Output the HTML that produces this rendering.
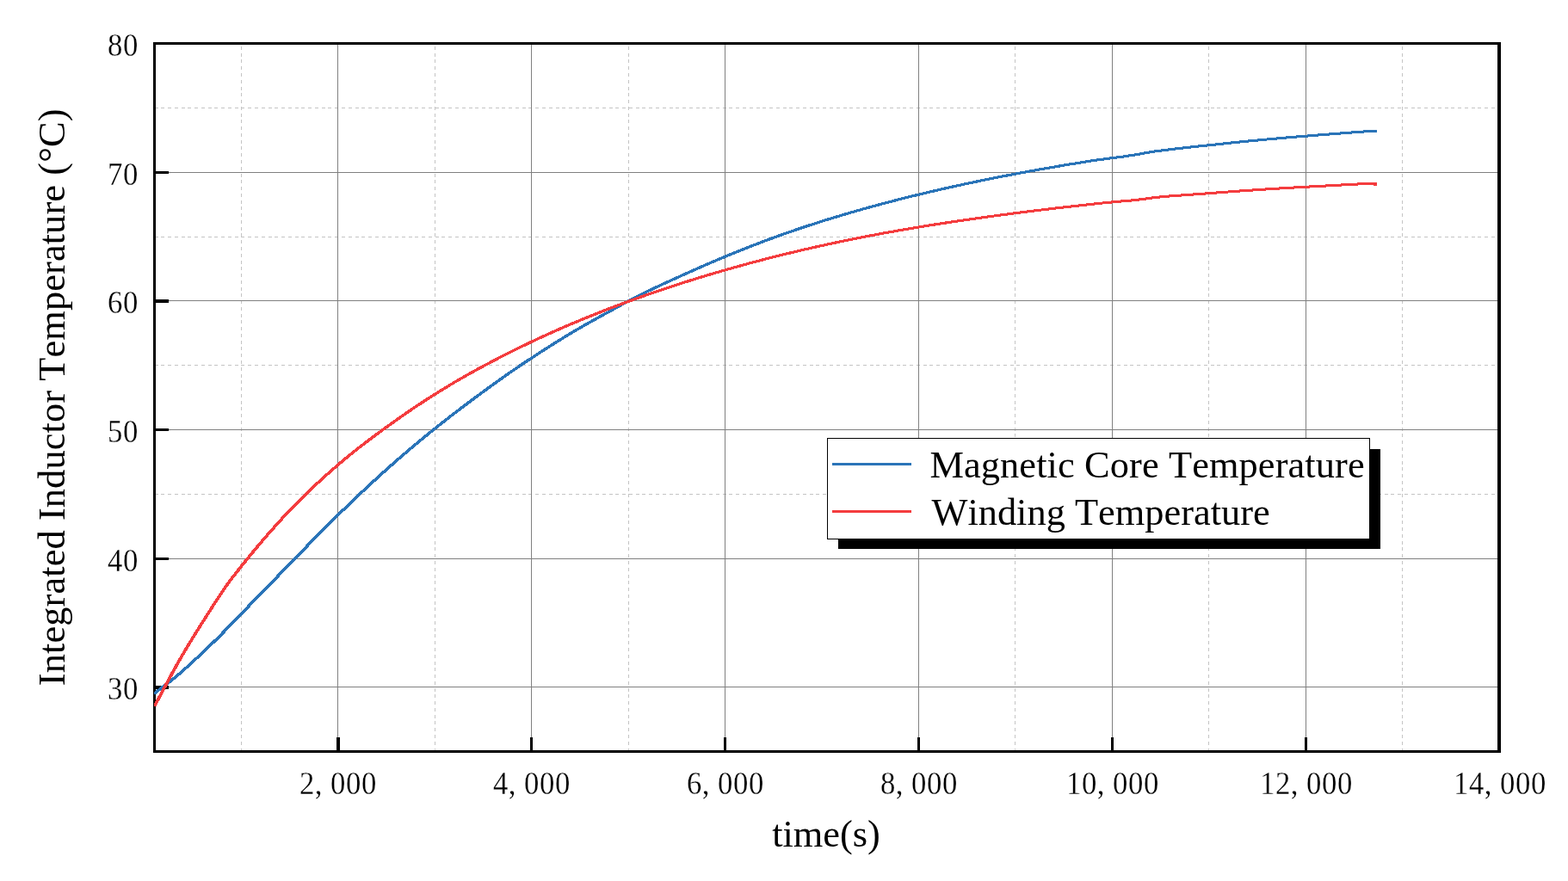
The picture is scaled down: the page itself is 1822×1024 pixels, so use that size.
<!DOCTYPE html>
<html lang="en"><head><meta charset="utf-8"><title>Integrated Inductor Temperature</title>
<style>html,body{margin:0;padding:0;background:#fff;}body{width:1822px;height:1024px;overflow:hidden;}svg{display:block;}text{font-family:"Liberation Serif","DejaVu Serif",serif;fill:#000;font-kerning:none;}.tk{font-size:36px;stroke:#fff;stroke-width:0.25px;}.ti{font-size:44.4px;}.lg{font-size:44.4px;}</style></head><body>
<svg width="1822" height="1024" viewBox="0 0 1822 1024">
<rect x="0" y="0" width="1822" height="1024" fill="#fff"/>
<g stroke="#c4c4c4" stroke-width="1" stroke-dasharray="4 3.767" shape-rendering="crispEdges" fill="none">
<line x1="280.5" y1="873.5" x2="280.5" y2="52"/>
<line x1="505.5" y1="873.5" x2="505.5" y2="52"/>
<line x1="730.5" y1="873.5" x2="730.5" y2="52"/>
<line x1="1179.5" y1="873.5" x2="1179.5" y2="52"/>
<line x1="1404.5" y1="873.5" x2="1404.5" y2="52"/>
<line x1="1629.5" y1="873.5" x2="1629.5" y2="52"/>
<line x1="179.5" y1="125.5" x2="1740" y2="125.5"/>
<line x1="179.5" y1="275.5" x2="1740" y2="275.5"/>
<line x1="179.5" y1="424.5" x2="1740" y2="424.5"/>
<line x1="179.5" y1="574.5" x2="1740" y2="574.5"/>
</g>
<g stroke="#808080" stroke-width="1" shape-rendering="crispEdges" fill="none">
<line x1="392.5" y1="52" x2="392.5" y2="872"/>
<line x1="617.5" y1="52" x2="617.5" y2="872"/>
<line x1="842.5" y1="52" x2="842.5" y2="872"/>
<line x1="1067.5" y1="52" x2="1067.5" y2="872"/>
<line x1="1292.5" y1="52" x2="1292.5" y2="872"/>
<line x1="1517.5" y1="52" x2="1517.5" y2="872"/>
<line x1="181" y1="200.5" x2="1740" y2="200.5"/>
<line x1="181" y1="349.5" x2="1740" y2="349.5"/>
<line x1="181" y1="499.5" x2="1740" y2="499.5"/>
<line x1="181" y1="649.5" x2="1740" y2="649.5"/>
<line x1="181" y1="798.5" x2="1740" y2="798.5"/>
</g>
<g fill="#000" shape-rendering="crispEdges">
<rect x="178" y="49" width="3" height="826"/>
<rect x="178" y="49" width="1566" height="3"/>
<rect x="1740" y="49" width="4" height="826"/>
<rect x="178" y="872" width="1566" height="3"/>
<rect x="391" y="857" width="4" height="15"/>
<rect x="616" y="857" width="3" height="15"/>
<rect x="841" y="857" width="3" height="15"/>
<rect x="1066" y="857" width="3" height="15"/>
<rect x="1291" y="857" width="3" height="15"/>
<rect x="1516" y="857" width="3" height="15"/>
<rect x="181" y="199" width="15" height="3"/>
<rect x="181" y="348" width="15" height="4"/>
<rect x="181" y="498" width="15" height="3"/>
<rect x="181" y="648" width="15" height="3"/>
<rect x="181" y="797" width="15" height="4"/>
</g>
<svg x="179" y="52" width="1421" height="821" viewBox="179 52 1421 821" overflow="hidden">
<g fill="none" stroke-width="3" stroke-linejoin="round" stroke-linecap="butt" shape-rendering="crispEdges">
<path stroke="#2a74b8" d="M179.00,806.17 L179.10,806.09 L180.10,805.25 L181.10,804.43 L182.10,803.62 L183.10,802.81 L184.10,802.02 L185.10,801.24 L186.10,800.46 L187.10,799.69 L188.10,798.92 L189.10,798.16 L190.10,797.40 L191.10,796.64 L192.10,795.88 L193.10,795.13 L194.10,794.37 L195.10,793.61 L196.10,792.85 L197.10,792.08 L198.10,791.31 L199.10,790.53 L200.10,789.74 L201.10,788.93 L202.10,788.13 L203.10,787.31 L204.10,786.48 L205.10,785.64 L206.10,784.80 L207.10,783.95 L208.10,783.09 L209.10,782.23 L210.10,781.36 L211.10,780.48 L212.10,779.60 L213.10,778.72 L214.10,777.82 L215.10,776.93 L216.10,776.03 L217.10,775.13 L218.10,774.22 L219.10,773.31 L220.10,772.40 L221.10,771.48 L222.10,770.57 L223.10,769.65 L224.10,768.73 L225.10,767.80 L226.10,766.88 L227.10,765.95 L228.10,765.02 L229.10,764.09 L230.10,763.15 L231.10,762.22 L232.10,761.28 L233.10,760.34 L234.10,759.40 L235.10,758.45 L236.10,757.51 L237.10,756.56 L238.10,755.61 L239.10,754.66 L240.10,753.70 L241.10,752.75 L242.10,751.79 L243.10,750.83 L244.10,749.87 L245.10,748.91 L246.10,747.94 L247.10,746.98 L248.09,746.01 L249.09,745.04 L250.08,744.07 L251.06,743.09 L252.05,742.12 L253.03,741.14 L254.01,740.16 L254.99,739.19 L255.96,738.20 L256.93,737.22 L257.91,736.24 L258.88,735.25 L259.85,734.27 L260.81,733.28 L261.78,732.29 L262.75,731.30 L263.71,730.31 L264.68,729.31 L265.64,728.32 L266.60,727.32 L267.57,726.32 L268.53,725.32 L269.50,724.32 L270.46,723.32 L271.42,722.32 L272.39,721.32 L273.35,720.31 L274.32,719.31 L275.29,718.30 L276.25,717.29 L277.22,716.28 L278.19,715.27 L279.17,714.26 L280.14,713.25 L281.11,712.24 L282.09,711.22 L283.07,710.21 L284.05,709.19 L285.04,708.18 L286.02,707.16 L287.01,706.14 L288.01,705.12 L289.00,704.10 L290.00,703.08 L291.00,702.06 L292.00,701.04 L293.00,700.01 L294.00,698.99 L295.00,697.97 L296.00,696.94 L297.00,695.92 L298.00,694.89 L299.00,693.86 L300.00,692.84 L301.00,691.81 L302.00,690.78 L303.00,689.75 L304.00,688.72 L305.00,687.69 L306.00,686.66 L307.00,685.63 L308.00,684.60 L309.00,683.57 L310.00,682.54 L311.00,681.51 L312.00,680.48 L313.00,679.45 L314.00,678.41 L315.00,677.38 L316.00,676.35 L317.00,675.31 L318.00,674.28 L319.00,673.25 L320.00,672.22 L321.00,671.18 L322.00,670.15 L323.00,669.11 L324.00,668.08 L325.00,667.05 L326.00,666.01 L327.00,664.98 L328.00,663.95 L329.00,662.91 L330.00,661.88 L331.00,660.85 L332.00,659.82 L333.00,658.78 L334.00,657.75 L335.00,656.72 L336.00,655.69 L337.00,654.65 L338.00,653.62 L339.00,652.59 L340.00,651.56 L341.00,650.53 L342.00,649.50 L343.00,648.47 L344.00,647.44 L345.00,646.41 L346.00,645.38 L347.00,644.36 L348.00,643.33 L349.00,642.30 L350.00,641.28 L351.00,640.25 L352.00,639.22 L353.00,638.20 L354.00,637.18 L355.00,636.15 L356.00,635.13 L357.00,634.11 L358.00,633.09 L359.00,632.07 L360.00,631.05 L361.00,630.03 L362.00,629.01 L363.00,627.99 L364.00,626.98 L365.00,625.96 L366.00,624.95 L367.00,623.93 L368.00,622.92 L369.00,621.91 L370.00,620.90 L371.00,619.89 L372.00,618.88 L373.00,617.87 L374.00,616.87 L375.00,615.86 L376.00,614.86 L377.00,613.85 L378.00,612.85 L379.00,611.85 L380.00,610.85 L381.00,609.85 L382.00,608.86 L383.00,607.86 L384.00,606.87 L385.00,605.87 L386.00,604.88 L387.00,603.89 L388.00,602.90 L389.00,601.91 L390.00,600.93 L391.00,599.94 L392.00,598.96 L393.00,597.98 L394.00,597.00 L395.00,596.02 L396.00,595.04 L397.00,594.06 L398.00,593.09 L399.00,592.12 L400.00,591.15 L401.00,590.18 L402.00,589.21 L403.00,588.24 L404.00,587.28 L405.00,586.31 L406.00,585.35 L407.00,584.39 L408.00,583.43 L409.00,582.47 L410.00,581.52 L411.00,580.56 L412.00,579.61 L413.00,578.66 L414.00,577.71 L415.00,576.76 L416.00,575.81 L417.00,574.87 L418.00,573.93 L419.00,572.98 L420.00,572.04 L421.00,571.10 L422.00,570.17 L423.00,569.23 L424.00,568.30 L425.00,567.36 L426.00,566.43 L427.00,565.50 L428.00,564.58 L429.00,563.65 L430.00,562.73 L431.00,561.80 L432.00,560.88 L433.00,559.96 L434.00,559.04 L435.00,558.13 L436.00,557.21 L437.00,556.30 L438.00,555.39 L439.00,554.48 L440.00,553.57 L441.00,552.66 L442.00,551.76 L443.00,550.85 L444.00,549.95 L445.00,549.05 L446.00,548.15 L447.00,547.25 L448.00,546.36 L449.00,545.46 L450.00,544.57 L451.00,543.68 L452.00,542.79 L453.00,541.90 L454.00,541.02 L455.00,540.14 L456.00,539.25 L457.00,538.37 L458.00,537.49 L459.00,536.62 L460.00,535.74 L461.00,534.87 L462.00,533.99 L463.00,533.12 L464.00,532.25 L465.00,531.39 L466.00,530.52 L467.00,529.66 L468.00,528.80 L469.00,527.93 L470.00,527.08 L471.00,526.22 L472.00,525.36 L473.00,524.51 L474.00,523.66 L475.00,522.81 L476.00,521.96 L477.00,521.11 L478.00,520.27 L479.00,519.42 L480.00,518.58 L481.00,517.74 L482.00,516.90 L483.00,516.07 L484.00,515.23 L485.00,514.40 L486.00,513.57 L487.00,512.74 L488.00,511.91 L489.00,511.08 L490.00,510.26 L491.00,509.43 L492.00,508.61 L493.00,507.79 L494.00,506.98 L495.00,506.16 L496.00,505.35 L497.00,504.53 L498.00,503.72 L499.00,502.91 L500.00,502.10 L501.00,501.30 L502.00,500.49 L503.00,499.69 L504.00,498.89 L505.00,498.09 L506.00,497.29 L507.00,496.49 L508.00,495.70 L509.00,494.90 L510.00,494.11 L511.00,493.32 L512.00,492.53 L513.00,491.74 L514.00,490.95 L515.00,490.17 L516.00,489.38 L517.00,488.60 L518.00,487.82 L519.00,487.04 L520.00,486.26 L521.00,485.49 L522.00,484.71 L523.00,483.94 L524.00,483.16 L525.00,482.39 L526.00,481.62 L527.00,480.85 L528.00,480.08 L529.00,479.32 L530.00,478.55 L531.00,477.79 L532.00,477.02 L533.00,476.26 L534.00,475.50 L535.00,474.74 L536.00,473.98 L537.00,473.23 L538.00,472.47 L539.00,471.72 L540.00,470.96 L541.00,470.21 L542.00,469.46 L543.00,468.71 L544.00,467.96 L545.00,467.21 L546.00,466.46 L547.00,465.72 L548.00,464.97 L549.00,464.23 L550.00,463.48 L551.00,462.74 L552.00,462.00 L553.00,461.26 L554.00,460.52 L555.00,459.78 L556.00,459.05 L557.00,458.31 L558.00,457.58 L559.00,456.84 L560.00,456.11 L561.00,455.37 L562.00,454.64 L563.00,453.91 L564.00,453.18 L565.00,452.45 L566.00,451.72 L567.00,451.00 L568.00,450.27 L569.00,449.54 L570.00,448.82 L571.00,448.09 L572.00,447.37 L573.00,446.65 L574.00,445.93 L575.00,445.21 L576.00,444.49 L577.00,443.77 L578.00,443.05 L579.00,442.33 L580.00,441.62 L581.00,440.90 L582.00,440.19 L583.00,439.47 L584.00,438.76 L585.00,438.05 L586.00,437.34 L587.00,436.63 L588.00,435.92 L589.00,435.22 L590.00,434.51 L591.00,433.82 L592.00,433.14 L593.00,432.45 L594.00,431.76 L595.00,431.08 L596.00,430.40 L597.00,429.72 L598.00,429.04 L599.00,428.36 L600.00,427.68 L601.00,427.00 L602.00,426.33 L603.00,425.65 L604.00,424.98 L605.00,424.30 L606.00,423.63 L607.00,422.96 L608.00,422.29 L609.00,421.63 L610.00,420.96 L611.00,420.30 L612.00,419.63 L613.00,418.97 L614.00,418.31 L615.00,417.65 L616.00,416.99 L617.00,416.33 L618.00,415.68 L619.00,415.02 L620.00,414.37 L621.00,413.71 L622.00,413.05 L623.00,412.40 L624.00,411.74 L625.00,411.09 L626.00,410.44 L627.00,409.79 L628.00,409.14 L629.00,408.49 L630.00,407.84 L631.00,407.20 L632.00,406.55 L633.00,405.91 L634.00,405.27 L635.00,404.63 L636.00,403.99 L637.00,403.35 L638.00,402.72 L639.00,402.08 L640.00,401.45 L641.00,400.82 L642.00,400.19 L643.00,399.56 L644.00,398.93 L645.00,398.31 L646.00,397.68 L647.00,397.06 L648.00,396.44 L649.00,395.82 L650.00,395.20 L651.00,394.58 L652.00,393.97 L653.00,393.35 L654.00,392.74 L655.00,392.13 L656.00,391.52 L657.00,390.91 L658.00,390.30 L659.00,389.69 L660.00,389.09 L661.00,388.49 L662.00,387.89 L663.00,387.29 L664.00,386.70 L665.00,386.10 L666.00,385.51 L667.00,384.92 L668.00,384.33 L669.00,383.74 L670.00,383.16 L671.00,382.57 L672.00,381.99 L673.00,381.41 L674.00,380.83 L675.00,380.25 L676.00,379.67 L677.00,379.09 L678.00,378.52 L679.00,377.94 L680.00,377.37 L681.00,376.80 L682.00,376.23 L683.00,375.67 L684.00,375.10 L685.00,374.54 L686.00,373.97 L687.00,373.41 L688.00,372.85 L689.00,372.29 L690.00,371.74 L691.00,371.18 L692.00,370.63 L693.00,370.08 L694.00,369.53 L695.00,368.98 L696.00,368.43 L697.00,367.89 L698.00,367.34 L699.00,366.80 L700.00,366.26 L702.00,365.18 L704.00,364.11 L706.00,363.01 L708.00,361.88 L710.00,360.77 L712.00,359.65 L714.00,358.55 L716.00,357.45 L718.00,356.35 L720.00,355.27 L722.00,354.19 L724.00,353.11 L726.00,352.05 L728.00,350.98 L730.00,349.93 L732.00,348.87 L734.00,347.82 L736.00,346.78 L738.00,345.74 L740.00,344.71 L742.00,343.68 L744.00,342.66 L746.00,341.64 L748.00,340.63 L750.00,339.62 L752.00,338.66 L754.00,337.70 L756.00,336.75 L758.00,335.80 L760.00,334.85 L762.00,333.91 L764.00,332.97 L766.00,332.04 L768.00,331.10 L770.00,330.18 L772.00,329.25 L774.00,328.33 L776.00,327.41 L778.00,326.49 L780.00,325.57 L782.00,324.66 L784.00,323.75 L786.00,322.84 L788.00,321.93 L790.00,321.03 L792.00,320.12 L794.00,319.22 L796.00,318.32 L798.00,317.42 L800.00,316.53 L802.00,315.64 L804.00,314.75 L806.00,313.86 L808.00,312.98 L810.00,312.10 L812.00,311.22 L814.00,310.34 L816.00,309.47 L818.00,308.60 L820.00,307.73 L822.00,306.86 L824.00,305.99 L826.00,305.13 L828.00,304.27 L830.00,303.42 L832.00,302.56 L834.00,301.71 L836.00,300.87 L838.00,300.02 L840.00,299.18 L842.00,298.34 L844.00,297.51 L846.00,296.69 L848.00,295.87 L850.00,295.05 L852.00,294.24 L854.00,293.42 L856.00,292.62 L858.00,291.81 L860.00,291.01 L862.00,290.21 L864.00,289.42 L866.00,288.62 L868.00,287.84 L870.00,287.05 L872.00,286.27 L874.00,285.49 L876.00,284.72 L878.00,283.95 L880.00,283.18 L882.00,282.42 L884.00,281.66 L886.00,280.90 L888.00,280.15 L890.00,279.40 L892.00,278.65 L894.00,277.91 L896.00,277.18 L898.00,276.44 L900.00,275.71 L902.00,274.99 L904.00,274.27 L906.00,273.55 L908.00,272.84 L910.00,272.13 L912.00,271.42 L914.00,270.72 L916.00,270.02 L918.00,269.32 L920.00,268.63 L922.00,267.95 L924.00,267.26 L926.00,266.58 L928.00,265.90 L930.00,265.23 L932.00,264.56 L934.00,263.89 L936.00,263.23 L938.00,262.57 L940.00,261.92 L942.00,261.26 L944.00,260.61 L946.00,259.97 L948.00,259.32 L950.00,258.68 L952.00,258.05 L954.00,257.41 L956.00,256.78 L958.00,256.16 L960.00,255.53 L962.00,254.91 L964.00,254.30 L966.00,253.68 L968.00,253.07 L970.00,252.46 L972.00,251.86 L974.00,251.26 L976.00,250.66 L978.00,250.06 L980.00,249.47 L982.00,248.88 L984.00,248.29 L986.00,247.70 L988.00,247.12 L990.00,246.54 L992.00,245.97 L994.00,245.39 L996.00,244.82 L998.00,244.25 L1000.00,243.69 L1002.00,243.13 L1004.00,242.57 L1006.00,242.01 L1008.00,241.45 L1010.00,240.90 L1012.00,240.35 L1014.00,239.80 L1016.00,239.26 L1018.00,238.71 L1020.00,238.17 L1022.00,237.64 L1024.00,237.10 L1026.00,236.57 L1028.00,236.04 L1030.00,235.51 L1032.00,234.99 L1034.00,234.46 L1036.00,233.94 L1038.00,233.42 L1040.00,232.91 L1042.00,232.39 L1044.00,231.88 L1046.00,231.37 L1048.00,230.87 L1050.00,230.36 L1052.00,229.86 L1054.00,229.36 L1056.00,228.87 L1058.00,228.37 L1060.00,227.88 L1062.00,227.39 L1064.00,226.90 L1066.00,226.41 L1068.00,225.93 L1070.00,225.45 L1072.00,224.97 L1074.00,224.49 L1076.00,224.02 L1078.00,223.54 L1080.00,223.07 L1082.00,222.60 L1084.00,222.14 L1086.00,221.67 L1088.00,221.21 L1090.00,220.75 L1092.00,220.29 L1094.00,219.84 L1096.00,219.38 L1098.00,218.93 L1100.00,218.48 L1102.00,218.03 L1104.00,217.59 L1106.00,217.14 L1108.00,216.70 L1110.00,216.26 L1112.00,215.83 L1114.00,215.39 L1116.00,214.96 L1118.00,214.52 L1120.00,214.09 L1122.00,213.67 L1124.00,213.24 L1126.00,212.82 L1128.00,212.39 L1130.00,211.97 L1132.00,211.55 L1134.00,211.14 L1136.00,210.72 L1138.00,210.31 L1140.00,209.90 L1142.00,209.49 L1144.00,209.08 L1146.00,208.68 L1148.00,208.27 L1150.00,207.87 L1152.00,207.47 L1154.00,207.07 L1156.00,206.67 L1158.00,206.28 L1160.00,205.88 L1162.00,205.49 L1164.00,205.10 L1166.00,204.71 L1168.00,204.32 L1170.00,203.94 L1172.00,203.56 L1174.00,203.17 L1176.00,202.79 L1178.00,202.41 L1180.00,202.04 L1182.00,201.66 L1184.00,201.29 L1186.00,200.91 L1188.00,200.54 L1190.00,200.17 L1192.00,199.81 L1194.00,199.44 L1196.00,199.07 L1198.00,198.71 L1200.00,198.35 L1202.00,197.99 L1204.00,197.63 L1206.00,197.27 L1208.00,196.92 L1210.00,196.56 L1212.00,196.21 L1214.00,195.86 L1216.00,195.51 L1218.00,195.16 L1220.00,194.81 L1222.00,194.47 L1224.00,194.12 L1226.00,193.78 L1228.00,193.44 L1230.00,193.10 L1232.00,192.76 L1234.00,192.43 L1236.00,192.09 L1238.00,191.76 L1240.00,191.42 L1242.00,191.09 L1244.00,190.76 L1246.00,190.44 L1248.00,190.11 L1250.00,189.78 L1252.00,189.46 L1254.00,189.14 L1256.00,188.82 L1258.00,188.50 L1260.00,188.18 L1262.00,187.86 L1264.00,187.55 L1266.00,187.24 L1268.00,186.92 L1270.00,186.61 L1272.00,186.34 L1274.00,186.06 L1276.00,185.79 L1278.00,185.52 L1280.00,185.25 L1282.00,184.98 L1284.00,184.72 L1286.00,184.45 L1288.00,184.19 L1290.00,183.93 L1292.00,183.66 L1294.00,183.40 L1296.00,183.15 L1298.00,182.89 L1300.00,182.63 L1302.00,182.38 L1304.00,182.13 L1306.00,181.85 L1308.00,181.54 L1310.00,181.24 L1312.00,180.94 L1314.00,180.64 L1316.00,180.34 L1318.00,180.04 L1320.00,179.74 L1322.00,179.37 L1324.00,179.00 L1326.00,178.62 L1328.00,178.25 L1330.00,177.89 L1332.00,177.55 L1334.00,177.21 L1336.00,176.87 L1338.00,176.53 L1340.00,176.19 L1342.00,175.89 L1344.00,175.64 L1346.00,175.39 L1348.00,175.13 L1350.00,174.88 L1352.00,174.64 L1354.00,174.39 L1356.00,174.14 L1358.00,173.90 L1360.00,173.66 L1362.00,173.42 L1364.00,173.19 L1366.00,172.95 L1368.00,172.72 L1370.00,172.49 L1372.00,172.26 L1374.00,172.03 L1376.00,171.80 L1378.00,171.58 L1380.00,171.36 L1382.00,171.14 L1384.00,170.92 L1386.00,170.70 L1388.00,170.49 L1390.00,170.27 L1392.00,170.06 L1394.00,169.85 L1396.00,169.64 L1398.00,169.43 L1400.00,169.22 L1402.00,169.01 L1404.00,168.80 L1406.00,168.60 L1408.00,168.39 L1410.00,168.19 L1412.00,167.97 L1414.00,167.76 L1416.00,167.54 L1418.00,167.33 L1420.00,167.11 L1422.00,166.90 L1424.00,166.69 L1426.00,166.48 L1428.00,166.27 L1430.00,166.06 L1432.00,165.86 L1434.00,165.65 L1436.00,165.45 L1438.00,165.25 L1440.00,165.04 L1442.00,164.84 L1444.00,164.64 L1446.00,164.45 L1448.00,164.25 L1450.00,164.05 L1452.00,163.86 L1454.00,163.67 L1456.00,163.47 L1458.00,163.28 L1460.00,163.09 L1462.00,162.90 L1464.00,162.71 L1466.00,162.53 L1468.00,162.34 L1470.00,162.16 L1472.00,161.97 L1474.00,161.79 L1476.00,161.61 L1478.00,161.43 L1480.00,161.25 L1482.00,161.07 L1484.00,160.90 L1486.00,160.72 L1488.00,160.55 L1490.00,160.37 L1492.00,160.20 L1494.00,160.03 L1496.00,159.86 L1498.00,159.69 L1500.00,159.52 L1502.00,159.35 L1504.00,159.19 L1506.00,159.02 L1508.00,158.86 L1510.00,158.70 L1512.00,158.54 L1514.00,158.37 L1516.00,158.21 L1518.00,158.06 L1520.00,157.90 L1522.00,157.74 L1524.00,157.59 L1526.00,157.43 L1528.00,157.28 L1530.00,157.13 L1532.00,156.97 L1534.00,156.82 L1536.00,156.68 L1538.00,156.53 L1540.00,156.38 L1542.00,156.22 L1544.00,156.05 L1546.00,155.89 L1548.00,155.73 L1550.00,155.57 L1552.00,155.42 L1554.00,155.26 L1556.00,155.10 L1558.00,154.95 L1560.00,154.79 L1562.00,154.64 L1564.00,154.49 L1566.00,154.34 L1568.00,154.19 L1570.00,154.04 L1572.00,153.89 L1574.00,153.74 L1576.00,153.60 L1578.00,153.45 L1580.00,153.31 L1582.00,153.16 L1584.00,153.04 L1586.00,152.91 L1588.00,152.79 L1590.00,152.67 L1592.00,152.54 L1594.00,152.42 L1596.00,152.30 L1598.00,152.18 L1600.00,152.07"/>
<path stroke="#2a74b8" transform="translate(0.8,0)" d="M179.00,806.17 L179.10,806.09 L180.10,805.25 L181.10,804.43 L182.10,803.62 L183.10,802.81 L184.10,802.02 L185.10,801.24 L186.10,800.46 L187.10,799.69 L188.10,798.92 L189.10,798.16 L190.10,797.40 L191.10,796.64 L192.10,795.88 L193.10,795.13 L194.10,794.37 L195.10,793.61 L196.10,792.85 L197.10,792.08 L198.10,791.31 L199.10,790.53 L200.10,789.74 L201.10,788.93 L202.10,788.13 L203.10,787.31 L204.10,786.48 L205.10,785.64 L206.10,784.80 L207.10,783.95 L208.10,783.09 L209.10,782.23 L210.10,781.36 L211.10,780.48 L212.10,779.60 L213.10,778.72 L214.10,777.82 L215.10,776.93 L216.10,776.03 L217.10,775.13 L218.10,774.22 L219.10,773.31 L220.10,772.40 L221.10,771.48 L222.10,770.57 L223.10,769.65 L224.10,768.73 L225.10,767.80 L226.10,766.88 L227.10,765.95 L228.10,765.02 L229.10,764.09 L230.10,763.15 L231.10,762.22 L232.10,761.28 L233.10,760.34 L234.10,759.40 L235.10,758.45 L236.10,757.51 L237.10,756.56 L238.10,755.61 L239.10,754.66 L240.10,753.70 L241.10,752.75 L242.10,751.79 L243.10,750.83 L244.10,749.87 L245.10,748.91 L246.10,747.94 L247.10,746.98 L248.09,746.01 L249.09,745.04 L250.08,744.07 L251.06,743.09 L252.05,742.12 L253.03,741.14 L254.01,740.16 L254.99,739.19 L255.96,738.20 L256.93,737.22 L257.91,736.24 L258.88,735.25 L259.85,734.27 L260.81,733.28 L261.78,732.29 L262.75,731.30 L263.71,730.31 L264.68,729.31 L265.64,728.32 L266.60,727.32 L267.57,726.32 L268.53,725.32 L269.50,724.32 L270.46,723.32 L271.42,722.32 L272.39,721.32 L273.35,720.31 L274.32,719.31 L275.29,718.30 L276.25,717.29 L277.22,716.28 L278.19,715.27 L279.17,714.26 L280.14,713.25 L281.11,712.24 L282.09,711.22 L283.07,710.21 L284.05,709.19 L285.04,708.18 L286.02,707.16 L287.01,706.14 L288.01,705.12 L289.00,704.10 L290.00,703.08 L291.00,702.06 L292.00,701.04 L293.00,700.01 L294.00,698.99 L295.00,697.97 L296.00,696.94 L297.00,695.92 L298.00,694.89 L299.00,693.86 L300.00,692.84 L301.00,691.81 L302.00,690.78 L303.00,689.75 L304.00,688.72 L305.00,687.69 L306.00,686.66 L307.00,685.63 L308.00,684.60 L309.00,683.57 L310.00,682.54 L311.00,681.51 L312.00,680.48 L313.00,679.45 L314.00,678.41 L315.00,677.38 L316.00,676.35 L317.00,675.31 L318.00,674.28 L319.00,673.25 L320.00,672.22 L321.00,671.18 L322.00,670.15 L323.00,669.11 L324.00,668.08 L325.00,667.05 L326.00,666.01 L327.00,664.98 L328.00,663.95 L329.00,662.91 L330.00,661.88 L331.00,660.85 L332.00,659.82 L333.00,658.78 L334.00,657.75 L335.00,656.72 L336.00,655.69 L337.00,654.65 L338.00,653.62 L339.00,652.59 L340.00,651.56 L341.00,650.53 L342.00,649.50 L343.00,648.47 L344.00,647.44 L345.00,646.41 L346.00,645.38 L347.00,644.36 L348.00,643.33 L349.00,642.30 L350.00,641.28 L351.00,640.25 L352.00,639.22 L353.00,638.20 L354.00,637.18 L355.00,636.15 L356.00,635.13 L357.00,634.11 L358.00,633.09 L359.00,632.07 L360.00,631.05 L361.00,630.03 L362.00,629.01 L363.00,627.99 L364.00,626.98 L365.00,625.96 L366.00,624.95 L367.00,623.93 L368.00,622.92 L369.00,621.91 L370.00,620.90 L371.00,619.89 L372.00,618.88 L373.00,617.87 L374.00,616.87 L375.00,615.86 L376.00,614.86 L377.00,613.85 L378.00,612.85 L379.00,611.85 L380.00,610.85 L381.00,609.85 L382.00,608.86 L383.00,607.86 L384.00,606.87 L385.00,605.87 L386.00,604.88 L387.00,603.89 L388.00,602.90 L389.00,601.91 L390.00,600.93 L391.00,599.94 L392.00,598.96 L393.00,597.98 L394.00,597.00 L395.00,596.02 L396.00,595.04 L397.00,594.06 L398.00,593.09 L399.00,592.12 L400.00,591.15 L401.00,590.18 L402.00,589.21 L403.00,588.24 L404.00,587.28 L405.00,586.31 L406.00,585.35 L407.00,584.39 L408.00,583.43 L409.00,582.47 L410.00,581.52 L411.00,580.56 L412.00,579.61 L413.00,578.66 L414.00,577.71 L415.00,576.76 L416.00,575.81 L417.00,574.87 L418.00,573.93 L419.00,572.98 L420.00,572.04 L421.00,571.10 L422.00,570.17 L423.00,569.23 L424.00,568.30 L425.00,567.36 L426.00,566.43 L427.00,565.50 L428.00,564.58 L429.00,563.65 L430.00,562.73 L431.00,561.80 L432.00,560.88 L433.00,559.96 L434.00,559.04 L435.00,558.13 L436.00,557.21 L437.00,556.30 L438.00,555.39 L439.00,554.48 L440.00,553.57 L441.00,552.66 L442.00,551.76 L443.00,550.85 L444.00,549.95 L445.00,549.05 L446.00,548.15 L447.00,547.25 L448.00,546.36 L449.00,545.46 L450.00,544.57 L451.00,543.68 L452.00,542.79 L453.00,541.90 L454.00,541.02 L455.00,540.14 L456.00,539.25 L457.00,538.37 L458.00,537.49 L459.00,536.62 L460.00,535.74 L461.00,534.87 L462.00,533.99 L463.00,533.12 L464.00,532.25 L465.00,531.39 L466.00,530.52 L467.00,529.66 L468.00,528.80 L469.00,527.93 L470.00,527.08 L471.00,526.22 L472.00,525.36 L473.00,524.51 L474.00,523.66 L475.00,522.81 L476.00,521.96 L477.00,521.11 L478.00,520.27 L479.00,519.42 L480.00,518.58 L481.00,517.74 L482.00,516.90 L483.00,516.07 L484.00,515.23 L485.00,514.40 L486.00,513.57 L487.00,512.74 L488.00,511.91 L489.00,511.08 L490.00,510.26 L491.00,509.43 L492.00,508.61 L493.00,507.79 L494.00,506.98 L495.00,506.16 L496.00,505.35 L497.00,504.53 L498.00,503.72 L499.00,502.91 L500.00,502.10 L501.00,501.30 L502.00,500.49 L503.00,499.69 L504.00,498.89 L505.00,498.09 L506.00,497.29 L507.00,496.49 L508.00,495.70 L509.00,494.90 L510.00,494.11 L511.00,493.32 L512.00,492.53 L513.00,491.74 L514.00,490.95 L515.00,490.17 L516.00,489.38 L517.00,488.60 L518.00,487.82 L519.00,487.04 L520.00,486.26 L521.00,485.49 L522.00,484.71 L523.00,483.94 L524.00,483.16 L525.00,482.39 L526.00,481.62 L527.00,480.85 L528.00,480.08 L529.00,479.32 L530.00,478.55 L531.00,477.79 L532.00,477.02 L533.00,476.26 L534.00,475.50 L535.00,474.74 L536.00,473.98 L537.00,473.23 L538.00,472.47 L539.00,471.72 L540.00,470.96 L541.00,470.21 L542.00,469.46 L543.00,468.71 L544.00,467.96 L545.00,467.21 L546.00,466.46 L547.00,465.72 L548.00,464.97 L549.00,464.23 L550.00,463.48 L551.00,462.74 L552.00,462.00 L553.00,461.26 L554.00,460.52 L555.00,459.78 L556.00,459.05 L557.00,458.31 L558.00,457.58 L559.00,456.84 L560.00,456.11 L561.00,455.37 L562.00,454.64 L563.00,453.91 L564.00,453.18 L565.00,452.45 L566.00,451.72 L567.00,451.00 L568.00,450.27 L569.00,449.54 L570.00,448.82 L571.00,448.09 L572.00,447.37 L573.00,446.65 L574.00,445.93 L575.00,445.21 L576.00,444.49 L577.00,443.77 L578.00,443.05 L579.00,442.33 L580.00,441.62 L581.00,440.90 L582.00,440.19 L583.00,439.47 L584.00,438.76 L585.00,438.05 L586.00,437.34 L587.00,436.63 L588.00,435.92 L589.00,435.22 L590.00,434.51 L591.00,433.82 L592.00,433.14 L593.00,432.45 L594.00,431.76 L595.00,431.08 L596.00,430.40 L597.00,429.72 L598.00,429.04 L599.00,428.36 L600.00,427.68 L601.00,427.00 L602.00,426.33 L603.00,425.65 L604.00,424.98 L605.00,424.30 L606.00,423.63 L607.00,422.96 L608.00,422.29 L609.00,421.63 L610.00,420.96 L611.00,420.30 L612.00,419.63 L613.00,418.97 L614.00,418.31 L615.00,417.65 L616.00,416.99 L617.00,416.33 L618.00,415.68 L619.00,415.02 L620.00,414.37 L621.00,413.71 L622.00,413.05 L623.00,412.40 L624.00,411.74 L625.00,411.09 L626.00,410.44 L627.00,409.79 L628.00,409.14 L629.00,408.49 L630.00,407.84 L631.00,407.20 L632.00,406.55 L633.00,405.91 L634.00,405.27 L635.00,404.63 L636.00,403.99 L637.00,403.35 L638.00,402.72 L639.00,402.08 L640.00,401.45 L641.00,400.82 L642.00,400.19 L643.00,399.56 L644.00,398.93 L645.00,398.31 L646.00,397.68 L647.00,397.06 L648.00,396.44 L649.00,395.82 L650.00,395.20 L651.00,394.58 L652.00,393.97 L653.00,393.35 L654.00,392.74 L655.00,392.13 L656.00,391.52 L657.00,390.91 L658.00,390.30 L659.00,389.69 L660.00,389.09 L661.00,388.49 L662.00,387.89 L663.00,387.29 L664.00,386.70 L665.00,386.10 L666.00,385.51 L667.00,384.92 L668.00,384.33 L669.00,383.74 L670.00,383.16 L671.00,382.57 L672.00,381.99 L673.00,381.41 L674.00,380.83 L675.00,380.25 L676.00,379.67 L677.00,379.09 L678.00,378.52 L679.00,377.94 L680.00,377.37 L681.00,376.80 L682.00,376.23 L683.00,375.67 L684.00,375.10 L685.00,374.54 L686.00,373.97 L687.00,373.41 L688.00,372.85 L689.00,372.29 L690.00,371.74 L691.00,371.18 L692.00,370.63 L693.00,370.08 L694.00,369.53 L695.00,368.98 L696.00,368.43 L697.00,367.89 L698.00,367.34 L699.00,366.80 L700.00,366.26 L702.00,365.18 L704.00,364.11 L706.00,363.01 L708.00,361.88 L710.00,360.77 L712.00,359.65 L714.00,358.55 L716.00,357.45 L718.00,356.35 L720.00,355.27 L722.00,354.19 L724.00,353.11 L726.00,352.05 L728.00,350.98 L730.00,349.93 L732.00,348.87 L734.00,347.82 L736.00,346.78 L738.00,345.74 L740.00,344.71 L742.00,343.68 L744.00,342.66 L746.00,341.64 L748.00,340.63 L750.00,339.62 L752.00,338.66 L754.00,337.70 L756.00,336.75 L758.00,335.80 L760.00,334.85 L762.00,333.91 L764.00,332.97 L766.00,332.04 L768.00,331.10 L770.00,330.18 L772.00,329.25 L774.00,328.33 L776.00,327.41 L778.00,326.49 L780.00,325.57 L782.00,324.66 L784.00,323.75 L786.00,322.84 L788.00,321.93 L790.00,321.03 L792.00,320.12 L794.00,319.22 L796.00,318.32 L798.00,317.42 L800.00,316.53 L802.00,315.64 L804.00,314.75 L806.00,313.86 L808.00,312.98 L810.00,312.10 L812.00,311.22 L814.00,310.34 L816.00,309.47 L818.00,308.60 L820.00,307.73 L822.00,306.86 L824.00,305.99 L826.00,305.13 L828.00,304.27 L830.00,303.42 L832.00,302.56 L834.00,301.71 L836.00,300.87 L838.00,300.02 L840.00,299.18 L842.00,298.34 L844.00,297.51 L846.00,296.69 L848.00,295.87 L850.00,295.05 L852.00,294.24 L854.00,293.42 L856.00,292.62 L858.00,291.81 L860.00,291.01 L862.00,290.21 L864.00,289.42 L866.00,288.62 L868.00,287.84 L870.00,287.05 L872.00,286.27 L874.00,285.49 L876.00,284.72 L878.00,283.95 L880.00,283.18 L882.00,282.42 L884.00,281.66 L886.00,280.90 L888.00,280.15 L890.00,279.40 L892.00,278.65 L894.00,277.91 L896.00,277.18 L898.00,276.44 L900.00,275.71 L902.00,274.99 L904.00,274.27 L906.00,273.55 L908.00,272.84 L910.00,272.13 L912.00,271.42 L914.00,270.72 L916.00,270.02 L918.00,269.32 L920.00,268.63 L922.00,267.95 L924.00,267.26 L926.00,266.58 L928.00,265.90 L930.00,265.23 L932.00,264.56 L934.00,263.89 L936.00,263.23 L938.00,262.57 L940.00,261.92 L942.00,261.26 L944.00,260.61 L946.00,259.97 L948.00,259.32 L950.00,258.68 L952.00,258.05 L954.00,257.41 L956.00,256.78 L958.00,256.16 L960.00,255.53 L962.00,254.91 L964.00,254.30 L966.00,253.68 L968.00,253.07 L970.00,252.46 L972.00,251.86 L974.00,251.26 L976.00,250.66 L978.00,250.06 L980.00,249.47 L982.00,248.88 L984.00,248.29 L986.00,247.70 L988.00,247.12 L990.00,246.54 L992.00,245.97 L994.00,245.39 L996.00,244.82 L998.00,244.25 L1000.00,243.69 L1002.00,243.13 L1004.00,242.57 L1006.00,242.01 L1008.00,241.45 L1010.00,240.90 L1012.00,240.35 L1014.00,239.80 L1016.00,239.26 L1018.00,238.71 L1020.00,238.17 L1022.00,237.64 L1024.00,237.10 L1026.00,236.57 L1028.00,236.04 L1030.00,235.51 L1032.00,234.99 L1034.00,234.46 L1036.00,233.94 L1038.00,233.42 L1040.00,232.91 L1042.00,232.39 L1044.00,231.88 L1046.00,231.37 L1048.00,230.87 L1050.00,230.36 L1052.00,229.86 L1054.00,229.36 L1056.00,228.87 L1058.00,228.37 L1060.00,227.88 L1062.00,227.39 L1064.00,226.90 L1066.00,226.41 L1068.00,225.93 L1070.00,225.45 L1072.00,224.97 L1074.00,224.49 L1076.00,224.02 L1078.00,223.54 L1080.00,223.07 L1082.00,222.60 L1084.00,222.14 L1086.00,221.67 L1088.00,221.21 L1090.00,220.75 L1092.00,220.29 L1094.00,219.84 L1096.00,219.38 L1098.00,218.93 L1100.00,218.48 L1102.00,218.03 L1104.00,217.59 L1106.00,217.14 L1108.00,216.70 L1110.00,216.26 L1112.00,215.83 L1114.00,215.39 L1116.00,214.96 L1118.00,214.52 L1120.00,214.09 L1122.00,213.67 L1124.00,213.24 L1126.00,212.82 L1128.00,212.39 L1130.00,211.97 L1132.00,211.55 L1134.00,211.14 L1136.00,210.72 L1138.00,210.31 L1140.00,209.90 L1142.00,209.49 L1144.00,209.08 L1146.00,208.68 L1148.00,208.27 L1150.00,207.87 L1152.00,207.47 L1154.00,207.07 L1156.00,206.67 L1158.00,206.28 L1160.00,205.88 L1162.00,205.49 L1164.00,205.10 L1166.00,204.71 L1168.00,204.32 L1170.00,203.94 L1172.00,203.56 L1174.00,203.17 L1176.00,202.79 L1178.00,202.41 L1180.00,202.04 L1182.00,201.66 L1184.00,201.29 L1186.00,200.91 L1188.00,200.54 L1190.00,200.17 L1192.00,199.81 L1194.00,199.44 L1196.00,199.07 L1198.00,198.71 L1200.00,198.35 L1202.00,197.99 L1204.00,197.63 L1206.00,197.27 L1208.00,196.92 L1210.00,196.56 L1212.00,196.21 L1214.00,195.86 L1216.00,195.51 L1218.00,195.16 L1220.00,194.81 L1222.00,194.47 L1224.00,194.12 L1226.00,193.78 L1228.00,193.44 L1230.00,193.10 L1232.00,192.76 L1234.00,192.43 L1236.00,192.09 L1238.00,191.76 L1240.00,191.42 L1242.00,191.09 L1244.00,190.76 L1246.00,190.44 L1248.00,190.11 L1250.00,189.78 L1252.00,189.46 L1254.00,189.14 L1256.00,188.82 L1258.00,188.50 L1260.00,188.18 L1262.00,187.86 L1264.00,187.55 L1266.00,187.24 L1268.00,186.92 L1270.00,186.61 L1272.00,186.34 L1274.00,186.06 L1276.00,185.79 L1278.00,185.52 L1280.00,185.25 L1282.00,184.98 L1284.00,184.72 L1286.00,184.45 L1288.00,184.19 L1290.00,183.93 L1292.00,183.66 L1294.00,183.40 L1296.00,183.15 L1298.00,182.89 L1300.00,182.63 L1302.00,182.38 L1304.00,182.13 L1306.00,181.85 L1308.00,181.54 L1310.00,181.24 L1312.00,180.94 L1314.00,180.64 L1316.00,180.34 L1318.00,180.04 L1320.00,179.74 L1322.00,179.37 L1324.00,179.00 L1326.00,178.62 L1328.00,178.25 L1330.00,177.89 L1332.00,177.55 L1334.00,177.21 L1336.00,176.87 L1338.00,176.53 L1340.00,176.19 L1342.00,175.89 L1344.00,175.64 L1346.00,175.39 L1348.00,175.13 L1350.00,174.88 L1352.00,174.64 L1354.00,174.39 L1356.00,174.14 L1358.00,173.90 L1360.00,173.66 L1362.00,173.42 L1364.00,173.19 L1366.00,172.95 L1368.00,172.72 L1370.00,172.49 L1372.00,172.26 L1374.00,172.03 L1376.00,171.80 L1378.00,171.58 L1380.00,171.36 L1382.00,171.14 L1384.00,170.92 L1386.00,170.70 L1388.00,170.49 L1390.00,170.27 L1392.00,170.06 L1394.00,169.85 L1396.00,169.64 L1398.00,169.43 L1400.00,169.22 L1402.00,169.01 L1404.00,168.80 L1406.00,168.60 L1408.00,168.39 L1410.00,168.19 L1412.00,167.97 L1414.00,167.76 L1416.00,167.54 L1418.00,167.33 L1420.00,167.11 L1422.00,166.90 L1424.00,166.69 L1426.00,166.48 L1428.00,166.27 L1430.00,166.06 L1432.00,165.86 L1434.00,165.65 L1436.00,165.45 L1438.00,165.25 L1440.00,165.04 L1442.00,164.84 L1444.00,164.64 L1446.00,164.45 L1448.00,164.25 L1450.00,164.05 L1452.00,163.86 L1454.00,163.67 L1456.00,163.47 L1458.00,163.28 L1460.00,163.09 L1462.00,162.90 L1464.00,162.71 L1466.00,162.53 L1468.00,162.34 L1470.00,162.16 L1472.00,161.97 L1474.00,161.79 L1476.00,161.61 L1478.00,161.43 L1480.00,161.25 L1482.00,161.07 L1484.00,160.90 L1486.00,160.72 L1488.00,160.55 L1490.00,160.37 L1492.00,160.20 L1494.00,160.03 L1496.00,159.86 L1498.00,159.69 L1500.00,159.52 L1502.00,159.35 L1504.00,159.19 L1506.00,159.02 L1508.00,158.86 L1510.00,158.70 L1512.00,158.54 L1514.00,158.37 L1516.00,158.21 L1518.00,158.06 L1520.00,157.90 L1522.00,157.74 L1524.00,157.59 L1526.00,157.43 L1528.00,157.28 L1530.00,157.13 L1532.00,156.97 L1534.00,156.82 L1536.00,156.68 L1538.00,156.53 L1540.00,156.38 L1542.00,156.22 L1544.00,156.05 L1546.00,155.89 L1548.00,155.73 L1550.00,155.57 L1552.00,155.42 L1554.00,155.26 L1556.00,155.10 L1558.00,154.95 L1560.00,154.79 L1562.00,154.64 L1564.00,154.49 L1566.00,154.34 L1568.00,154.19 L1570.00,154.04 L1572.00,153.89 L1574.00,153.74 L1576.00,153.60 L1578.00,153.45 L1580.00,153.31 L1582.00,153.16 L1584.00,153.04 L1586.00,152.91 L1588.00,152.79 L1590.00,152.67 L1592.00,152.54 L1594.00,152.42 L1596.00,152.30 L1598.00,152.18 L1600.00,152.07"/>
<path stroke="#f43c3e" d="M179.00,821.13 L179.60,820.01 L180.60,818.13 L181.60,816.26 L182.60,814.38 L183.60,812.49 L184.60,810.61 L185.60,808.73 L186.60,806.85 L187.60,804.96 L188.60,803.08 L189.60,801.20 L190.60,799.33 L191.60,797.45 L192.60,795.58 L193.60,793.72 L194.60,791.86 L195.60,790.00 L196.60,788.15 L197.60,786.31 L198.60,784.48 L199.60,782.65 L200.60,780.83 L201.60,779.02 L202.60,777.22 L203.60,775.42 L204.60,773.64 L205.60,771.86 L206.60,770.09 L207.60,768.33 L208.60,766.58 L209.60,764.84 L210.60,763.11 L211.60,761.39 L212.60,759.68 L213.60,757.97 L214.60,756.27 L215.60,754.59 L216.60,752.91 L217.60,751.24 L218.60,749.58 L219.60,747.92 L220.60,746.27 L221.60,744.63 L222.60,743.00 L223.60,741.37 L224.60,739.75 L225.60,738.13 L226.60,736.52 L227.60,734.91 L228.60,733.31 L229.60,731.72 L230.60,730.13 L231.60,728.54 L232.60,726.96 L233.60,725.38 L234.60,723.80 L235.60,722.23 L236.60,720.65 L237.60,719.09 L238.60,717.52 L239.59,715.96 L240.59,714.40 L241.58,712.84 L242.56,711.28 L243.55,709.73 L244.53,708.18 L245.51,706.64 L246.49,705.11 L247.47,703.58 L248.44,702.05 L249.42,700.53 L250.39,699.02 L251.37,697.52 L252.34,696.03 L253.31,694.54 L254.29,693.07 L255.26,691.60 L256.23,690.15 L257.21,688.70 L258.18,687.27 L259.16,685.84 L260.13,684.43 L261.11,683.04 L262.09,681.65 L263.07,680.28 L264.05,678.91 L265.04,677.56 L266.02,676.22 L267.01,674.89 L268.01,673.56 L269.00,672.25 L270.00,670.94 L271.00,669.64 L272.00,668.35 L273.00,667.07 L274.00,665.79 L275.00,664.52 L276.00,663.25 L277.00,661.99 L278.00,660.73 L279.00,659.47 L280.00,658.22 L281.00,656.98 L282.00,655.73 L283.00,654.49 L284.00,653.25 L285.00,652.02 L286.00,650.78 L287.00,649.56 L288.00,648.33 L289.00,647.11 L290.00,645.88 L291.00,644.67 L292.00,643.45 L293.00,642.24 L294.00,641.03 L295.00,639.83 L296.00,638.63 L297.00,637.43 L298.00,636.24 L299.00,635.04 L300.00,633.86 L301.00,632.67 L302.00,631.49 L303.00,630.31 L304.00,629.14 L305.00,627.97 L306.00,626.80 L307.00,625.64 L308.00,624.48 L309.00,623.32 L310.00,622.17 L311.00,621.02 L312.00,619.87 L313.00,618.73 L314.00,617.59 L315.00,616.46 L316.00,615.33 L317.00,614.20 L318.00,613.08 L319.00,611.96 L320.00,610.84 L321.00,609.73 L322.00,608.63 L323.00,607.52 L324.00,606.42 L325.00,605.33 L326.00,604.24 L327.00,603.15 L328.00,602.07 L329.00,600.99 L330.00,599.92 L331.00,598.85 L332.00,597.78 L333.00,596.72 L334.00,595.66 L335.00,594.61 L336.00,593.56 L337.00,592.51 L338.00,591.47 L339.00,590.44 L340.00,589.40 L341.00,588.38 L342.00,587.35 L343.00,586.33 L344.00,585.31 L345.00,584.30 L346.00,583.29 L347.00,582.29 L348.00,581.29 L349.00,580.29 L350.00,579.30 L351.00,578.31 L352.00,577.32 L353.00,576.34 L354.00,575.36 L355.00,574.39 L356.00,573.41 L357.00,572.45 L358.00,571.48 L359.00,570.52 L360.00,569.56 L361.00,568.61 L362.00,567.66 L363.00,566.71 L364.00,565.77 L365.00,564.83 L366.00,563.89 L367.00,562.96 L368.00,562.03 L369.00,561.10 L370.00,560.18 L371.00,559.26 L372.00,558.34 L373.00,557.43 L374.00,556.52 L375.00,555.61 L376.00,554.70 L377.00,553.80 L378.00,552.90 L379.00,552.01 L380.00,551.11 L381.00,550.22 L382.00,549.34 L383.00,548.45 L384.00,547.57 L385.00,546.69 L386.00,545.81 L387.00,544.94 L388.00,544.07 L389.00,543.20 L390.00,542.34 L391.00,541.47 L392.00,540.61 L393.00,539.76 L394.00,538.90 L395.00,538.05 L396.00,537.20 L397.00,536.35 L398.00,535.51 L399.00,534.66 L400.00,533.82 L401.00,533.00 L402.00,532.18 L403.00,531.36 L404.00,530.55 L405.00,529.73 L406.00,528.92 L407.00,528.11 L408.00,527.31 L409.00,526.50 L410.00,525.70 L411.00,524.90 L412.00,524.11 L413.00,523.31 L414.00,522.52 L415.00,521.73 L416.00,520.94 L417.00,520.16 L418.00,519.38 L419.00,518.60 L420.00,517.82 L421.00,517.04 L422.00,516.27 L423.00,515.50 L424.00,514.73 L425.00,513.96 L426.00,513.20 L427.00,512.44 L428.00,511.68 L429.00,510.92 L430.00,510.17 L431.00,509.42 L432.00,508.67 L433.00,507.92 L434.00,507.17 L435.00,506.43 L436.00,505.69 L437.00,504.95 L438.00,504.21 L439.00,503.48 L440.00,502.75 L441.00,502.02 L442.00,501.29 L443.00,500.56 L444.00,499.84 L445.00,499.12 L446.00,498.40 L447.00,497.68 L448.00,496.96 L449.00,496.25 L450.00,495.54 L451.00,494.81 L452.00,494.08 L453.00,493.35 L454.00,492.63 L455.00,491.91 L456.00,491.19 L457.00,490.47 L458.00,489.75 L459.00,489.04 L460.00,488.32 L461.00,487.61 L462.00,486.91 L463.00,486.20 L464.00,485.50 L465.00,484.79 L466.00,484.09 L467.00,483.40 L468.00,482.70 L469.00,482.00 L470.00,481.31 L471.00,480.62 L472.00,479.93 L473.00,479.25 L474.00,478.56 L475.00,477.88 L476.00,477.20 L477.00,476.52 L478.00,475.84 L479.00,475.17 L480.00,474.49 L481.00,473.82 L482.00,473.15 L483.00,472.49 L484.00,471.82 L485.00,471.16 L486.00,470.49 L487.00,469.83 L488.00,469.17 L489.00,468.52 L490.00,467.86 L491.00,467.21 L492.00,466.56 L493.00,465.91 L494.00,465.26 L495.00,464.62 L496.00,463.97 L497.00,463.33 L498.00,462.69 L499.00,462.05 L500.00,461.41 L501.00,460.77 L502.00,460.14 L503.00,459.50 L504.00,458.87 L505.00,458.24 L506.00,457.61 L507.00,456.98 L508.00,456.36 L509.00,455.73 L510.00,455.11 L511.00,454.49 L512.00,453.87 L513.00,453.25 L514.00,452.64 L515.00,452.02 L516.00,451.41 L517.00,450.80 L518.00,450.19 L519.00,449.58 L520.00,448.97 L521.00,448.37 L522.00,447.77 L523.00,447.16 L524.00,446.56 L525.00,445.97 L526.00,445.37 L527.00,444.77 L528.00,444.18 L529.00,443.59 L530.00,442.99 L531.00,442.41 L532.00,441.84 L533.00,441.26 L534.00,440.68 L535.00,440.11 L536.00,439.54 L537.00,438.97 L538.00,438.40 L539.00,437.83 L540.00,437.26 L541.00,436.70 L542.00,436.13 L543.00,435.57 L544.00,435.01 L545.00,434.45 L546.00,433.89 L547.00,433.33 L548.00,432.78 L549.00,432.22 L550.00,431.67 L551.00,431.12 L552.00,430.57 L553.00,430.02 L554.00,429.47 L555.00,428.93 L556.00,428.38 L557.00,427.84 L558.00,427.29 L559.00,426.75 L560.00,426.21 L561.00,425.67 L562.00,425.14 L563.00,424.60 L564.00,424.06 L565.00,423.53 L566.00,423.00 L567.00,422.47 L568.00,421.94 L569.00,421.41 L570.00,420.88 L571.00,420.35 L572.00,419.83 L573.00,419.30 L574.00,418.78 L575.00,418.26 L576.00,417.74 L577.00,417.22 L578.00,416.70 L579.00,416.18 L580.00,415.67 L581.00,415.15 L582.00,414.64 L583.00,414.12 L584.00,413.61 L585.00,413.10 L586.00,412.59 L587.00,412.09 L588.00,411.58 L589.00,411.07 L590.00,410.57 L591.00,410.07 L592.00,409.57 L593.00,409.06 L594.00,408.56 L595.00,408.07 L596.00,407.57 L597.00,407.07 L598.00,406.58 L599.00,406.08 L600.00,405.59 L601.00,405.10 L602.00,404.61 L603.00,404.12 L604.00,403.63 L605.00,403.14 L606.00,402.66 L607.00,402.17 L608.00,401.69 L609.00,401.21 L610.00,400.72 L611.00,400.24 L612.00,399.76 L613.00,399.29 L614.00,398.81 L615.00,398.33 L616.00,397.86 L617.00,397.38 L618.00,396.91 L619.00,396.44 L620.00,395.97 L621.00,395.50 L622.00,395.03 L623.00,394.56 L624.00,394.10 L625.00,393.63 L626.00,393.17 L627.00,392.70 L628.00,392.24 L629.00,391.78 L630.00,391.32 L631.00,390.86 L632.00,390.40 L633.00,389.95 L634.00,389.49 L635.00,389.04 L636.00,388.58 L637.00,388.13 L638.00,387.68 L639.00,387.23 L640.00,386.78 L641.00,386.33 L642.00,385.88 L643.00,385.44 L644.00,384.99 L645.00,384.55 L646.00,384.10 L647.00,383.66 L648.00,383.22 L649.00,382.78 L650.00,382.34 L651.00,381.90 L652.00,381.47 L653.00,381.03 L654.00,380.59 L655.00,380.16 L656.00,379.73 L657.00,379.30 L658.00,378.86 L659.00,378.43 L660.00,378.00 L661.00,377.58 L662.00,377.15 L663.00,376.72 L664.00,376.30 L665.00,375.87 L666.00,375.45 L667.00,375.03 L668.00,374.61 L669.00,374.19 L670.00,373.77 L671.00,373.35 L672.00,372.93 L673.00,372.51 L674.00,372.10 L675.00,371.68 L676.00,371.27 L677.00,370.86 L678.00,370.44 L679.00,370.03 L680.00,369.62 L681.00,369.21 L682.00,368.81 L683.00,368.40 L684.00,367.99 L685.00,367.59 L686.00,367.18 L687.00,366.78 L688.00,366.38 L689.00,365.98 L690.00,365.58 L691.00,365.18 L692.00,364.78 L693.00,364.38 L694.00,363.98 L695.00,363.59 L696.00,363.19 L697.00,362.80 L698.00,362.40 L699.00,362.01 L700.00,361.62 L702.00,360.84 L704.00,360.06 L706.00,359.29 L708.00,358.52 L710.00,357.75 L712.00,356.99 L714.00,356.23 L716.00,355.47 L718.00,354.72 L720.00,353.97 L722.00,353.22 L724.00,352.48 L726.00,351.74 L728.00,351.00 L730.00,350.27 L732.00,349.54 L734.00,348.82 L736.00,348.09 L738.00,347.37 L740.00,346.66 L742.00,345.94 L744.00,345.23 L746.00,344.53 L748.00,343.82 L750.00,343.12 L752.00,342.42 L754.00,341.73 L756.00,341.04 L758.00,340.35 L760.00,339.66 L762.00,338.98 L764.00,338.30 L766.00,337.62 L768.00,336.95 L770.00,336.28 L772.00,335.61 L774.00,334.94 L776.00,334.28 L778.00,333.62 L780.00,332.96 L782.00,332.31 L784.00,331.66 L786.00,331.01 L788.00,330.36 L790.00,329.72 L792.00,329.08 L794.00,328.44 L796.00,327.81 L798.00,327.18 L800.00,326.55 L802.00,325.92 L804.00,325.29 L806.00,324.67 L808.00,324.05 L810.00,323.44 L812.00,322.82 L814.00,322.21 L816.00,321.60 L818.00,321.00 L820.00,320.39 L822.00,319.79 L824.00,319.20 L826.00,318.60 L828.00,318.01 L830.00,317.42 L832.00,316.83 L834.00,316.24 L836.00,315.66 L838.00,315.08 L840.00,314.50 L842.00,313.93 L844.00,313.36 L846.00,312.79 L848.00,312.22 L850.00,311.65 L852.00,311.09 L854.00,310.53 L856.00,309.97 L858.00,309.42 L860.00,308.87 L862.00,308.32 L864.00,307.77 L866.00,307.22 L868.00,306.68 L870.00,306.14 L872.00,305.60 L874.00,305.07 L876.00,304.54 L878.00,304.01 L880.00,303.48 L882.00,302.95 L884.00,302.43 L886.00,301.91 L888.00,301.39 L890.00,300.87 L892.00,300.36 L894.00,299.85 L896.00,299.34 L898.00,298.84 L900.00,298.33 L902.00,297.83 L904.00,297.33 L906.00,296.83 L908.00,296.34 L910.00,295.85 L912.00,295.36 L914.00,294.87 L916.00,294.39 L918.00,293.90 L920.00,293.42 L922.00,292.94 L924.00,292.47 L926.00,291.99 L928.00,291.52 L930.00,291.05 L932.00,290.59 L934.00,290.12 L936.00,289.66 L938.00,289.20 L940.00,288.74 L942.00,288.29 L944.00,287.83 L946.00,287.38 L948.00,286.93 L950.00,286.49 L952.00,286.04 L954.00,285.60 L956.00,285.16 L958.00,284.72 L960.00,284.29 L962.00,283.86 L964.00,283.42 L966.00,283.00 L968.00,282.57 L970.00,282.14 L972.00,281.72 L974.00,281.30 L976.00,280.88 L978.00,280.47 L980.00,280.05 L982.00,279.64 L984.00,279.23 L986.00,278.83 L988.00,278.42 L990.00,278.02 L992.00,277.62 L994.00,277.22 L996.00,276.82 L998.00,276.42 L1000.00,276.03 L1002.00,275.64 L1004.00,275.25 L1006.00,274.87 L1008.00,274.48 L1010.00,274.10 L1012.00,273.72 L1014.00,273.34 L1016.00,272.96 L1018.00,272.59 L1020.00,272.22 L1022.00,271.85 L1024.00,271.48 L1026.00,271.11 L1028.00,270.75 L1030.00,270.38 L1032.00,270.02 L1034.00,269.66 L1036.00,269.31 L1038.00,268.95 L1040.00,268.60 L1042.00,268.25 L1044.00,267.90 L1046.00,267.55 L1048.00,267.20 L1050.00,266.86 L1052.00,266.52 L1054.00,266.17 L1056.00,265.84 L1058.00,265.50 L1060.00,265.16 L1062.00,264.83 L1064.00,264.50 L1066.00,264.17 L1068.00,263.84 L1070.00,263.51 L1072.00,263.18 L1074.00,262.86 L1076.00,262.54 L1078.00,262.22 L1080.00,261.90 L1082.00,261.58 L1084.00,261.26 L1086.00,260.95 L1088.00,260.64 L1090.00,260.33 L1092.00,260.02 L1094.00,259.71 L1096.00,259.40 L1098.00,259.10 L1100.00,258.79 L1102.00,258.49 L1104.00,258.19 L1106.00,257.89 L1108.00,257.59 L1110.00,257.29 L1112.00,257.00 L1114.00,256.70 L1116.00,256.41 L1118.00,256.12 L1120.00,255.83 L1122.00,255.54 L1124.00,255.25 L1126.00,254.97 L1128.00,254.68 L1130.00,254.40 L1132.00,254.12 L1134.00,253.84 L1136.00,253.56 L1138.00,253.28 L1140.00,253.00 L1142.00,252.72 L1144.00,252.45 L1146.00,252.17 L1148.00,251.90 L1150.00,251.63 L1152.00,251.36 L1154.00,251.09 L1156.00,250.82 L1158.00,250.55 L1160.00,250.29 L1162.00,250.02 L1164.00,249.76 L1166.00,249.50 L1168.00,249.24 L1170.00,248.97 L1172.00,248.71 L1174.00,248.46 L1176.00,248.20 L1178.00,247.94 L1180.00,247.68 L1182.00,247.43 L1184.00,247.18 L1186.00,246.92 L1188.00,246.67 L1190.00,246.42 L1192.00,246.17 L1194.00,245.92 L1196.00,245.67 L1198.00,245.42 L1200.00,245.18 L1202.00,244.93 L1204.00,244.68 L1206.00,244.44 L1208.00,244.20 L1210.00,243.96 L1212.00,243.71 L1214.00,243.47 L1216.00,243.23 L1218.00,243.00 L1220.00,242.76 L1222.00,242.52 L1224.00,242.29 L1226.00,242.05 L1228.00,241.82 L1230.00,241.59 L1232.00,241.35 L1234.00,241.12 L1236.00,240.89 L1238.00,240.66 L1240.00,240.43 L1242.00,240.21 L1244.00,239.98 L1246.00,239.75 L1248.00,239.53 L1250.00,239.31 L1252.00,239.08 L1254.00,238.86 L1256.00,238.64 L1258.00,238.42 L1260.00,238.20 L1262.00,237.98 L1264.00,237.76 L1266.00,237.55 L1268.00,237.33 L1270.00,237.12 L1272.00,236.90 L1274.00,236.69 L1276.00,236.48 L1278.00,236.27 L1280.00,236.06 L1282.00,235.87 L1284.00,235.68 L1286.00,235.49 L1288.00,235.30 L1290.00,235.11 L1292.00,234.92 L1294.00,234.74 L1296.00,234.55 L1298.00,234.37 L1300.00,234.18 L1302.00,234.00 L1304.00,233.84 L1306.00,233.67 L1308.00,233.50 L1310.00,233.34 L1312.00,233.18 L1314.00,233.02 L1316.00,232.80 L1318.00,232.58 L1320.00,232.37 L1322.00,232.15 L1324.00,231.92 L1326.00,231.65 L1328.00,231.39 L1330.00,231.12 L1332.00,230.85 L1334.00,230.58 L1336.00,230.31 L1338.00,230.04 L1340.00,229.81 L1342.00,229.58 L1344.00,229.36 L1346.00,229.13 L1348.00,228.93 L1350.00,228.75 L1352.00,228.57 L1354.00,228.39 L1356.00,228.21 L1358.00,228.04 L1360.00,227.89 L1362.00,227.75 L1364.00,227.60 L1366.00,227.46 L1368.00,227.31 L1370.00,227.17 L1372.00,227.03 L1374.00,226.88 L1376.00,226.73 L1378.00,226.59 L1380.00,226.44 L1382.00,226.30 L1384.00,226.15 L1386.00,226.01 L1388.00,225.87 L1390.00,225.73 L1392.00,225.59 L1394.00,225.45 L1396.00,225.31 L1398.00,225.17 L1400.00,225.03 L1402.00,224.88 L1404.00,224.72 L1406.00,224.56 L1408.00,224.41 L1410.00,224.25 L1412.00,224.10 L1414.00,223.95 L1416.00,223.80 L1418.00,223.65 L1420.00,223.50 L1422.00,223.35 L1424.00,223.20 L1426.00,223.05 L1428.00,222.91 L1430.00,222.76 L1432.00,222.61 L1434.00,222.47 L1436.00,222.33 L1438.00,222.19 L1440.00,222.04 L1442.00,221.90 L1444.00,221.76 L1446.00,221.62 L1448.00,221.49 L1450.00,221.35 L1452.00,221.21 L1454.00,221.08 L1456.00,220.94 L1458.00,220.81 L1460.00,220.68 L1462.00,220.54 L1464.00,220.41 L1466.00,220.28 L1468.00,220.15 L1470.00,220.02 L1472.00,219.90 L1474.00,219.77 L1476.00,219.64 L1478.00,219.52 L1480.00,219.39 L1482.00,219.27 L1484.00,219.15 L1486.00,219.02 L1488.00,218.90 L1490.00,218.78 L1492.00,218.66 L1494.00,218.54 L1496.00,218.42 L1498.00,218.31 L1500.00,218.19 L1502.00,218.08 L1504.00,217.96 L1506.00,217.85 L1508.00,217.73 L1510.00,217.62 L1512.00,217.51 L1514.00,217.40 L1516.00,217.29 L1518.00,217.18 L1520.00,217.07 L1522.00,216.97 L1524.00,216.86 L1526.00,216.76 L1528.00,216.65 L1530.00,216.55 L1532.00,216.44 L1534.00,216.34 L1536.00,216.24 L1538.00,216.14 L1540.00,216.04 L1542.00,215.92 L1544.00,215.81 L1546.00,215.69 L1548.00,215.57 L1550.00,215.46 L1552.00,215.35 L1554.00,215.23 L1556.00,215.12 L1558.00,215.01 L1560.00,214.90 L1562.00,214.79 L1564.00,214.68 L1566.00,214.57 L1568.00,214.47 L1570.00,214.36 L1572.00,214.26 L1574.00,214.15 L1576.00,214.05 L1578.00,213.95 L1580.00,213.87 L1582.00,213.79 L1584.00,213.71 L1586.00,213.63 L1588.00,213.55 L1590.00,213.47 L1592.00,213.39 L1594.00,213.31 L1596.00,213.23 L1598.00,213.16 L1600.00,213.08"/>
<path stroke="#f43c3e" transform="translate(0.8,0)" d="M179.00,821.13 L179.60,820.01 L180.60,818.13 L181.60,816.26 L182.60,814.38 L183.60,812.49 L184.60,810.61 L185.60,808.73 L186.60,806.85 L187.60,804.96 L188.60,803.08 L189.60,801.20 L190.60,799.33 L191.60,797.45 L192.60,795.58 L193.60,793.72 L194.60,791.86 L195.60,790.00 L196.60,788.15 L197.60,786.31 L198.60,784.48 L199.60,782.65 L200.60,780.83 L201.60,779.02 L202.60,777.22 L203.60,775.42 L204.60,773.64 L205.60,771.86 L206.60,770.09 L207.60,768.33 L208.60,766.58 L209.60,764.84 L210.60,763.11 L211.60,761.39 L212.60,759.68 L213.60,757.97 L214.60,756.27 L215.60,754.59 L216.60,752.91 L217.60,751.24 L218.60,749.58 L219.60,747.92 L220.60,746.27 L221.60,744.63 L222.60,743.00 L223.60,741.37 L224.60,739.75 L225.60,738.13 L226.60,736.52 L227.60,734.91 L228.60,733.31 L229.60,731.72 L230.60,730.13 L231.60,728.54 L232.60,726.96 L233.60,725.38 L234.60,723.80 L235.60,722.23 L236.60,720.65 L237.60,719.09 L238.60,717.52 L239.59,715.96 L240.59,714.40 L241.58,712.84 L242.56,711.28 L243.55,709.73 L244.53,708.18 L245.51,706.64 L246.49,705.11 L247.47,703.58 L248.44,702.05 L249.42,700.53 L250.39,699.02 L251.37,697.52 L252.34,696.03 L253.31,694.54 L254.29,693.07 L255.26,691.60 L256.23,690.15 L257.21,688.70 L258.18,687.27 L259.16,685.84 L260.13,684.43 L261.11,683.04 L262.09,681.65 L263.07,680.28 L264.05,678.91 L265.04,677.56 L266.02,676.22 L267.01,674.89 L268.01,673.56 L269.00,672.25 L270.00,670.94 L271.00,669.64 L272.00,668.35 L273.00,667.07 L274.00,665.79 L275.00,664.52 L276.00,663.25 L277.00,661.99 L278.00,660.73 L279.00,659.47 L280.00,658.22 L281.00,656.98 L282.00,655.73 L283.00,654.49 L284.00,653.25 L285.00,652.02 L286.00,650.78 L287.00,649.56 L288.00,648.33 L289.00,647.11 L290.00,645.88 L291.00,644.67 L292.00,643.45 L293.00,642.24 L294.00,641.03 L295.00,639.83 L296.00,638.63 L297.00,637.43 L298.00,636.24 L299.00,635.04 L300.00,633.86 L301.00,632.67 L302.00,631.49 L303.00,630.31 L304.00,629.14 L305.00,627.97 L306.00,626.80 L307.00,625.64 L308.00,624.48 L309.00,623.32 L310.00,622.17 L311.00,621.02 L312.00,619.87 L313.00,618.73 L314.00,617.59 L315.00,616.46 L316.00,615.33 L317.00,614.20 L318.00,613.08 L319.00,611.96 L320.00,610.84 L321.00,609.73 L322.00,608.63 L323.00,607.52 L324.00,606.42 L325.00,605.33 L326.00,604.24 L327.00,603.15 L328.00,602.07 L329.00,600.99 L330.00,599.92 L331.00,598.85 L332.00,597.78 L333.00,596.72 L334.00,595.66 L335.00,594.61 L336.00,593.56 L337.00,592.51 L338.00,591.47 L339.00,590.44 L340.00,589.40 L341.00,588.38 L342.00,587.35 L343.00,586.33 L344.00,585.31 L345.00,584.30 L346.00,583.29 L347.00,582.29 L348.00,581.29 L349.00,580.29 L350.00,579.30 L351.00,578.31 L352.00,577.32 L353.00,576.34 L354.00,575.36 L355.00,574.39 L356.00,573.41 L357.00,572.45 L358.00,571.48 L359.00,570.52 L360.00,569.56 L361.00,568.61 L362.00,567.66 L363.00,566.71 L364.00,565.77 L365.00,564.83 L366.00,563.89 L367.00,562.96 L368.00,562.03 L369.00,561.10 L370.00,560.18 L371.00,559.26 L372.00,558.34 L373.00,557.43 L374.00,556.52 L375.00,555.61 L376.00,554.70 L377.00,553.80 L378.00,552.90 L379.00,552.01 L380.00,551.11 L381.00,550.22 L382.00,549.34 L383.00,548.45 L384.00,547.57 L385.00,546.69 L386.00,545.81 L387.00,544.94 L388.00,544.07 L389.00,543.20 L390.00,542.34 L391.00,541.47 L392.00,540.61 L393.00,539.76 L394.00,538.90 L395.00,538.05 L396.00,537.20 L397.00,536.35 L398.00,535.51 L399.00,534.66 L400.00,533.82 L401.00,533.00 L402.00,532.18 L403.00,531.36 L404.00,530.55 L405.00,529.73 L406.00,528.92 L407.00,528.11 L408.00,527.31 L409.00,526.50 L410.00,525.70 L411.00,524.90 L412.00,524.11 L413.00,523.31 L414.00,522.52 L415.00,521.73 L416.00,520.94 L417.00,520.16 L418.00,519.38 L419.00,518.60 L420.00,517.82 L421.00,517.04 L422.00,516.27 L423.00,515.50 L424.00,514.73 L425.00,513.96 L426.00,513.20 L427.00,512.44 L428.00,511.68 L429.00,510.92 L430.00,510.17 L431.00,509.42 L432.00,508.67 L433.00,507.92 L434.00,507.17 L435.00,506.43 L436.00,505.69 L437.00,504.95 L438.00,504.21 L439.00,503.48 L440.00,502.75 L441.00,502.02 L442.00,501.29 L443.00,500.56 L444.00,499.84 L445.00,499.12 L446.00,498.40 L447.00,497.68 L448.00,496.96 L449.00,496.25 L450.00,495.54 L451.00,494.81 L452.00,494.08 L453.00,493.35 L454.00,492.63 L455.00,491.91 L456.00,491.19 L457.00,490.47 L458.00,489.75 L459.00,489.04 L460.00,488.32 L461.00,487.61 L462.00,486.91 L463.00,486.20 L464.00,485.50 L465.00,484.79 L466.00,484.09 L467.00,483.40 L468.00,482.70 L469.00,482.00 L470.00,481.31 L471.00,480.62 L472.00,479.93 L473.00,479.25 L474.00,478.56 L475.00,477.88 L476.00,477.20 L477.00,476.52 L478.00,475.84 L479.00,475.17 L480.00,474.49 L481.00,473.82 L482.00,473.15 L483.00,472.49 L484.00,471.82 L485.00,471.16 L486.00,470.49 L487.00,469.83 L488.00,469.17 L489.00,468.52 L490.00,467.86 L491.00,467.21 L492.00,466.56 L493.00,465.91 L494.00,465.26 L495.00,464.62 L496.00,463.97 L497.00,463.33 L498.00,462.69 L499.00,462.05 L500.00,461.41 L501.00,460.77 L502.00,460.14 L503.00,459.50 L504.00,458.87 L505.00,458.24 L506.00,457.61 L507.00,456.98 L508.00,456.36 L509.00,455.73 L510.00,455.11 L511.00,454.49 L512.00,453.87 L513.00,453.25 L514.00,452.64 L515.00,452.02 L516.00,451.41 L517.00,450.80 L518.00,450.19 L519.00,449.58 L520.00,448.97 L521.00,448.37 L522.00,447.77 L523.00,447.16 L524.00,446.56 L525.00,445.97 L526.00,445.37 L527.00,444.77 L528.00,444.18 L529.00,443.59 L530.00,442.99 L531.00,442.41 L532.00,441.84 L533.00,441.26 L534.00,440.68 L535.00,440.11 L536.00,439.54 L537.00,438.97 L538.00,438.40 L539.00,437.83 L540.00,437.26 L541.00,436.70 L542.00,436.13 L543.00,435.57 L544.00,435.01 L545.00,434.45 L546.00,433.89 L547.00,433.33 L548.00,432.78 L549.00,432.22 L550.00,431.67 L551.00,431.12 L552.00,430.57 L553.00,430.02 L554.00,429.47 L555.00,428.93 L556.00,428.38 L557.00,427.84 L558.00,427.29 L559.00,426.75 L560.00,426.21 L561.00,425.67 L562.00,425.14 L563.00,424.60 L564.00,424.06 L565.00,423.53 L566.00,423.00 L567.00,422.47 L568.00,421.94 L569.00,421.41 L570.00,420.88 L571.00,420.35 L572.00,419.83 L573.00,419.30 L574.00,418.78 L575.00,418.26 L576.00,417.74 L577.00,417.22 L578.00,416.70 L579.00,416.18 L580.00,415.67 L581.00,415.15 L582.00,414.64 L583.00,414.12 L584.00,413.61 L585.00,413.10 L586.00,412.59 L587.00,412.09 L588.00,411.58 L589.00,411.07 L590.00,410.57 L591.00,410.07 L592.00,409.57 L593.00,409.06 L594.00,408.56 L595.00,408.07 L596.00,407.57 L597.00,407.07 L598.00,406.58 L599.00,406.08 L600.00,405.59 L601.00,405.10 L602.00,404.61 L603.00,404.12 L604.00,403.63 L605.00,403.14 L606.00,402.66 L607.00,402.17 L608.00,401.69 L609.00,401.21 L610.00,400.72 L611.00,400.24 L612.00,399.76 L613.00,399.29 L614.00,398.81 L615.00,398.33 L616.00,397.86 L617.00,397.38 L618.00,396.91 L619.00,396.44 L620.00,395.97 L621.00,395.50 L622.00,395.03 L623.00,394.56 L624.00,394.10 L625.00,393.63 L626.00,393.17 L627.00,392.70 L628.00,392.24 L629.00,391.78 L630.00,391.32 L631.00,390.86 L632.00,390.40 L633.00,389.95 L634.00,389.49 L635.00,389.04 L636.00,388.58 L637.00,388.13 L638.00,387.68 L639.00,387.23 L640.00,386.78 L641.00,386.33 L642.00,385.88 L643.00,385.44 L644.00,384.99 L645.00,384.55 L646.00,384.10 L647.00,383.66 L648.00,383.22 L649.00,382.78 L650.00,382.34 L651.00,381.90 L652.00,381.47 L653.00,381.03 L654.00,380.59 L655.00,380.16 L656.00,379.73 L657.00,379.30 L658.00,378.86 L659.00,378.43 L660.00,378.00 L661.00,377.58 L662.00,377.15 L663.00,376.72 L664.00,376.30 L665.00,375.87 L666.00,375.45 L667.00,375.03 L668.00,374.61 L669.00,374.19 L670.00,373.77 L671.00,373.35 L672.00,372.93 L673.00,372.51 L674.00,372.10 L675.00,371.68 L676.00,371.27 L677.00,370.86 L678.00,370.44 L679.00,370.03 L680.00,369.62 L681.00,369.21 L682.00,368.81 L683.00,368.40 L684.00,367.99 L685.00,367.59 L686.00,367.18 L687.00,366.78 L688.00,366.38 L689.00,365.98 L690.00,365.58 L691.00,365.18 L692.00,364.78 L693.00,364.38 L694.00,363.98 L695.00,363.59 L696.00,363.19 L697.00,362.80 L698.00,362.40 L699.00,362.01 L700.00,361.62 L702.00,360.84 L704.00,360.06 L706.00,359.29 L708.00,358.52 L710.00,357.75 L712.00,356.99 L714.00,356.23 L716.00,355.47 L718.00,354.72 L720.00,353.97 L722.00,353.22 L724.00,352.48 L726.00,351.74 L728.00,351.00 L730.00,350.27 L732.00,349.54 L734.00,348.82 L736.00,348.09 L738.00,347.37 L740.00,346.66 L742.00,345.94 L744.00,345.23 L746.00,344.53 L748.00,343.82 L750.00,343.12 L752.00,342.42 L754.00,341.73 L756.00,341.04 L758.00,340.35 L760.00,339.66 L762.00,338.98 L764.00,338.30 L766.00,337.62 L768.00,336.95 L770.00,336.28 L772.00,335.61 L774.00,334.94 L776.00,334.28 L778.00,333.62 L780.00,332.96 L782.00,332.31 L784.00,331.66 L786.00,331.01 L788.00,330.36 L790.00,329.72 L792.00,329.08 L794.00,328.44 L796.00,327.81 L798.00,327.18 L800.00,326.55 L802.00,325.92 L804.00,325.29 L806.00,324.67 L808.00,324.05 L810.00,323.44 L812.00,322.82 L814.00,322.21 L816.00,321.60 L818.00,321.00 L820.00,320.39 L822.00,319.79 L824.00,319.20 L826.00,318.60 L828.00,318.01 L830.00,317.42 L832.00,316.83 L834.00,316.24 L836.00,315.66 L838.00,315.08 L840.00,314.50 L842.00,313.93 L844.00,313.36 L846.00,312.79 L848.00,312.22 L850.00,311.65 L852.00,311.09 L854.00,310.53 L856.00,309.97 L858.00,309.42 L860.00,308.87 L862.00,308.32 L864.00,307.77 L866.00,307.22 L868.00,306.68 L870.00,306.14 L872.00,305.60 L874.00,305.07 L876.00,304.54 L878.00,304.01 L880.00,303.48 L882.00,302.95 L884.00,302.43 L886.00,301.91 L888.00,301.39 L890.00,300.87 L892.00,300.36 L894.00,299.85 L896.00,299.34 L898.00,298.84 L900.00,298.33 L902.00,297.83 L904.00,297.33 L906.00,296.83 L908.00,296.34 L910.00,295.85 L912.00,295.36 L914.00,294.87 L916.00,294.39 L918.00,293.90 L920.00,293.42 L922.00,292.94 L924.00,292.47 L926.00,291.99 L928.00,291.52 L930.00,291.05 L932.00,290.59 L934.00,290.12 L936.00,289.66 L938.00,289.20 L940.00,288.74 L942.00,288.29 L944.00,287.83 L946.00,287.38 L948.00,286.93 L950.00,286.49 L952.00,286.04 L954.00,285.60 L956.00,285.16 L958.00,284.72 L960.00,284.29 L962.00,283.86 L964.00,283.42 L966.00,283.00 L968.00,282.57 L970.00,282.14 L972.00,281.72 L974.00,281.30 L976.00,280.88 L978.00,280.47 L980.00,280.05 L982.00,279.64 L984.00,279.23 L986.00,278.83 L988.00,278.42 L990.00,278.02 L992.00,277.62 L994.00,277.22 L996.00,276.82 L998.00,276.42 L1000.00,276.03 L1002.00,275.64 L1004.00,275.25 L1006.00,274.87 L1008.00,274.48 L1010.00,274.10 L1012.00,273.72 L1014.00,273.34 L1016.00,272.96 L1018.00,272.59 L1020.00,272.22 L1022.00,271.85 L1024.00,271.48 L1026.00,271.11 L1028.00,270.75 L1030.00,270.38 L1032.00,270.02 L1034.00,269.66 L1036.00,269.31 L1038.00,268.95 L1040.00,268.60 L1042.00,268.25 L1044.00,267.90 L1046.00,267.55 L1048.00,267.20 L1050.00,266.86 L1052.00,266.52 L1054.00,266.17 L1056.00,265.84 L1058.00,265.50 L1060.00,265.16 L1062.00,264.83 L1064.00,264.50 L1066.00,264.17 L1068.00,263.84 L1070.00,263.51 L1072.00,263.18 L1074.00,262.86 L1076.00,262.54 L1078.00,262.22 L1080.00,261.90 L1082.00,261.58 L1084.00,261.26 L1086.00,260.95 L1088.00,260.64 L1090.00,260.33 L1092.00,260.02 L1094.00,259.71 L1096.00,259.40 L1098.00,259.10 L1100.00,258.79 L1102.00,258.49 L1104.00,258.19 L1106.00,257.89 L1108.00,257.59 L1110.00,257.29 L1112.00,257.00 L1114.00,256.70 L1116.00,256.41 L1118.00,256.12 L1120.00,255.83 L1122.00,255.54 L1124.00,255.25 L1126.00,254.97 L1128.00,254.68 L1130.00,254.40 L1132.00,254.12 L1134.00,253.84 L1136.00,253.56 L1138.00,253.28 L1140.00,253.00 L1142.00,252.72 L1144.00,252.45 L1146.00,252.17 L1148.00,251.90 L1150.00,251.63 L1152.00,251.36 L1154.00,251.09 L1156.00,250.82 L1158.00,250.55 L1160.00,250.29 L1162.00,250.02 L1164.00,249.76 L1166.00,249.50 L1168.00,249.24 L1170.00,248.97 L1172.00,248.71 L1174.00,248.46 L1176.00,248.20 L1178.00,247.94 L1180.00,247.68 L1182.00,247.43 L1184.00,247.18 L1186.00,246.92 L1188.00,246.67 L1190.00,246.42 L1192.00,246.17 L1194.00,245.92 L1196.00,245.67 L1198.00,245.42 L1200.00,245.18 L1202.00,244.93 L1204.00,244.68 L1206.00,244.44 L1208.00,244.20 L1210.00,243.96 L1212.00,243.71 L1214.00,243.47 L1216.00,243.23 L1218.00,243.00 L1220.00,242.76 L1222.00,242.52 L1224.00,242.29 L1226.00,242.05 L1228.00,241.82 L1230.00,241.59 L1232.00,241.35 L1234.00,241.12 L1236.00,240.89 L1238.00,240.66 L1240.00,240.43 L1242.00,240.21 L1244.00,239.98 L1246.00,239.75 L1248.00,239.53 L1250.00,239.31 L1252.00,239.08 L1254.00,238.86 L1256.00,238.64 L1258.00,238.42 L1260.00,238.20 L1262.00,237.98 L1264.00,237.76 L1266.00,237.55 L1268.00,237.33 L1270.00,237.12 L1272.00,236.90 L1274.00,236.69 L1276.00,236.48 L1278.00,236.27 L1280.00,236.06 L1282.00,235.87 L1284.00,235.68 L1286.00,235.49 L1288.00,235.30 L1290.00,235.11 L1292.00,234.92 L1294.00,234.74 L1296.00,234.55 L1298.00,234.37 L1300.00,234.18 L1302.00,234.00 L1304.00,233.84 L1306.00,233.67 L1308.00,233.50 L1310.00,233.34 L1312.00,233.18 L1314.00,233.02 L1316.00,232.80 L1318.00,232.58 L1320.00,232.37 L1322.00,232.15 L1324.00,231.92 L1326.00,231.65 L1328.00,231.39 L1330.00,231.12 L1332.00,230.85 L1334.00,230.58 L1336.00,230.31 L1338.00,230.04 L1340.00,229.81 L1342.00,229.58 L1344.00,229.36 L1346.00,229.13 L1348.00,228.93 L1350.00,228.75 L1352.00,228.57 L1354.00,228.39 L1356.00,228.21 L1358.00,228.04 L1360.00,227.89 L1362.00,227.75 L1364.00,227.60 L1366.00,227.46 L1368.00,227.31 L1370.00,227.17 L1372.00,227.03 L1374.00,226.88 L1376.00,226.73 L1378.00,226.59 L1380.00,226.44 L1382.00,226.30 L1384.00,226.15 L1386.00,226.01 L1388.00,225.87 L1390.00,225.73 L1392.00,225.59 L1394.00,225.45 L1396.00,225.31 L1398.00,225.17 L1400.00,225.03 L1402.00,224.88 L1404.00,224.72 L1406.00,224.56 L1408.00,224.41 L1410.00,224.25 L1412.00,224.10 L1414.00,223.95 L1416.00,223.80 L1418.00,223.65 L1420.00,223.50 L1422.00,223.35 L1424.00,223.20 L1426.00,223.05 L1428.00,222.91 L1430.00,222.76 L1432.00,222.61 L1434.00,222.47 L1436.00,222.33 L1438.00,222.19 L1440.00,222.04 L1442.00,221.90 L1444.00,221.76 L1446.00,221.62 L1448.00,221.49 L1450.00,221.35 L1452.00,221.21 L1454.00,221.08 L1456.00,220.94 L1458.00,220.81 L1460.00,220.68 L1462.00,220.54 L1464.00,220.41 L1466.00,220.28 L1468.00,220.15 L1470.00,220.02 L1472.00,219.90 L1474.00,219.77 L1476.00,219.64 L1478.00,219.52 L1480.00,219.39 L1482.00,219.27 L1484.00,219.15 L1486.00,219.02 L1488.00,218.90 L1490.00,218.78 L1492.00,218.66 L1494.00,218.54 L1496.00,218.42 L1498.00,218.31 L1500.00,218.19 L1502.00,218.08 L1504.00,217.96 L1506.00,217.85 L1508.00,217.73 L1510.00,217.62 L1512.00,217.51 L1514.00,217.40 L1516.00,217.29 L1518.00,217.18 L1520.00,217.07 L1522.00,216.97 L1524.00,216.86 L1526.00,216.76 L1528.00,216.65 L1530.00,216.55 L1532.00,216.44 L1534.00,216.34 L1536.00,216.24 L1538.00,216.14 L1540.00,216.04 L1542.00,215.92 L1544.00,215.81 L1546.00,215.69 L1548.00,215.57 L1550.00,215.46 L1552.00,215.35 L1554.00,215.23 L1556.00,215.12 L1558.00,215.01 L1560.00,214.90 L1562.00,214.79 L1564.00,214.68 L1566.00,214.57 L1568.00,214.47 L1570.00,214.36 L1572.00,214.26 L1574.00,214.15 L1576.00,214.05 L1578.00,213.95 L1580.00,213.87 L1582.00,213.79 L1584.00,213.71 L1586.00,213.63 L1588.00,213.55 L1590.00,213.47 L1592.00,213.39 L1594.00,213.31 L1596.00,213.23 L1598.00,213.16 L1600.00,213.08"/>
<rect x="1596" y="215" width="4" height="1" fill="#f43c3e" stroke="none"/>
</g>
</svg>
<g shape-rendering="crispEdges">
<rect x="974" y="522" width="630" height="116" fill="#000"/>
<rect x="961.5" y="509.5" width="630" height="117" fill="#fff" stroke="#000" stroke-width="1"/>
<rect x="967" y="538" width="92" height="3" fill="#2a74b8"/>
<rect x="967" y="593" width="92" height="3" fill="#f43c3e"/>
</g>
<text class="lg" x="1080.4" y="555" style="letter-spacing:0.1px">Magnetic Core Temperature</text>
<text class="lg" x="1082.5" y="610">Winding Temperature</text>
<text class="tk" transform="translate(0,923) scale(0.965,1.065)" y="0" x="360.73 378.96 398.03 416.68 435.34">2,000</text>
<text class="tk" transform="translate(0,923) scale(0.965,1.065)" y="0" x="593.89 612.12 631.19 649.84 668.50">4,000</text>
<text class="tk" transform="translate(0,923) scale(0.965,1.065)" y="0" x="827.05 845.28 864.35 883.01 901.66">6,000</text>
<text class="tk" transform="translate(0,923) scale(0.965,1.065)" y="0" x="1060.21 1078.45 1097.51 1116.17 1134.82">8,000</text>
<text class="tk" transform="translate(0,923) scale(0.965,1.065)" y="0" x="1284.04 1302.69 1320.93 1340.00 1358.65 1377.31">10,000</text>
<text class="tk" transform="translate(0,923) scale(0.965,1.065)" y="0" x="1517.20 1535.85 1554.09 1573.16 1591.81 1610.47">12,000</text>
<text class="tk" transform="translate(0,923) scale(0.965,1.065)" y="0" x="1750.36 1769.02 1787.25 1806.32 1824.97 1843.63">14,000</text>
<text class="tk" transform="translate(0,65) scale(0.965,1.065)" y="0" x="129.64 148.29">80</text>
<text class="tk" transform="translate(0,215) scale(0.965,1.065)" y="0" x="129.64 148.29">70</text>
<text class="tk" transform="translate(0,364) scale(0.965,1.065)" y="0" x="129.64 148.29">60</text>
<text class="tk" transform="translate(0,514) scale(0.965,1.065)" y="0" x="129.64 148.29">50</text>
<text class="tk" transform="translate(0,664) scale(0.965,1.065)" y="0" x="129.64 148.29">40</text>
<text class="tk" transform="translate(0,813) scale(0.965,1.065)" y="0" x="129.64 148.29">30</text>
<text class="ti" x="960" y="984" text-anchor="middle">time(s)</text>
<text class="ti" transform="translate(75,461.8) rotate(-90) scale(1,1.015)" text-anchor="middle" style="letter-spacing:0.1px">Integrated Inductor Temperature (°C)</text>
</svg></body></html>
